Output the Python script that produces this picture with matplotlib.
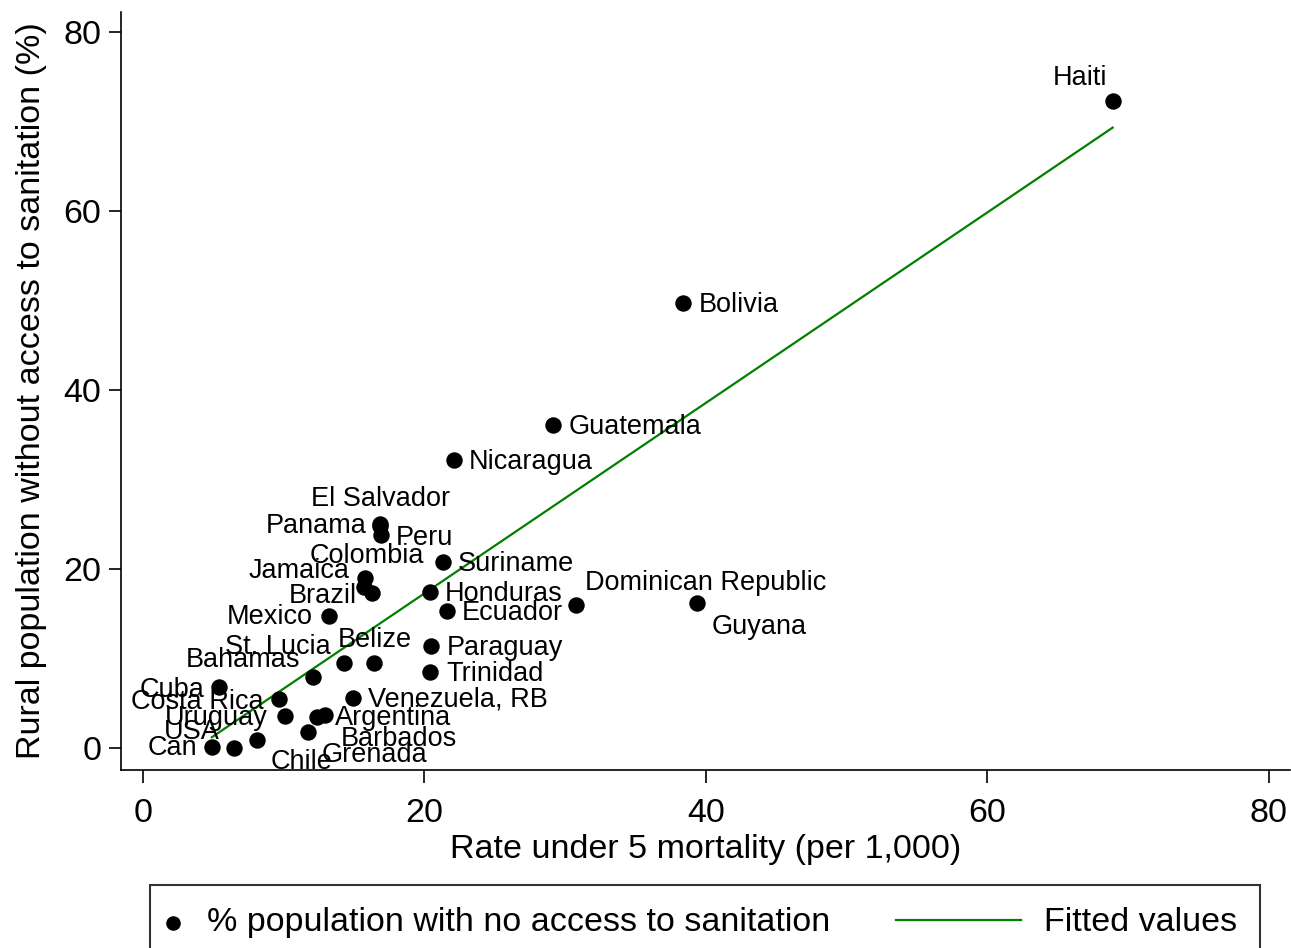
import matplotlib
matplotlib.use("Agg")
import matplotlib.pyplot as plt
from matplotlib.legend_handler import HandlerLine2D, HandlerPathCollection
import numpy as np

plt.rcParams['font.family'] = ['Liberation Sans', 'DejaVu Sans']

# Dados (taxa de mortalidade < 5 anos vs % rural sem saneamento)
PAISES = ["Haiti", "Bolivia", "Guatemala", "Nicaragua", "El Salvador", "Panama",
          "Peru", "Colombia", "Jamaica", "Brazil", "Suriname", "Honduras",
          "Ecuador", "Dominican Republic", "Guyana", "Mexico", "Paraguay",
          "Trinidad", "Belize", "St. Lucia", "Bahamas", "Cuba", "Costa Rica",
          "Venezuela, RB", "Uruguay", "Argentina", "Barbados", "Grenada",
          "Chile", "USA", "Can"]
MORTALIDADE = [68.9, 38.4, 29.1, 22.1, 16.85, 16.85, 16.9, 15.8, 15.7, 16.3,
               21.3, 20.4, 21.6, 30.8, 39.4, 13.2, 20.5, 20.4, 16.4, 14.3,
               12.1, 5.4, 9.7, 14.9, 10.1, 12.9, 12.4, 11.7, 6.5, 8.1, 4.9]
SEM_SANEAMENTO = [72.3, 49.7, 36.1, 32.2, 25.0, 24.8, 23.8, 19.0, 18.0, 17.3,
                  20.8, 17.4, 15.3, 16.0, 16.2, 14.7, 11.4, 8.5, 9.5, 9.5,
                  7.9, 6.8, 5.5, 5.6, 3.6, 3.7, 3.5, 1.8, 0.0, 0.9, 0.1]

# posição dos rótulos (dx, dy em pixels, alinhamento)
ROTULOS = {
    "Haiti": (-33, 23, "center"), "Bolivia": (15, -2, "left"),
    "Guatemala": (16, -2, "left"), "Nicaragua": (15, -2, "left"),
    "El Salvador": (0, 25, "center"), "Panama": (-13, 0, "right"),
    "Peru": (15, -3, "left"), "Colombia": (2, 22, "center"),
    "Jamaica": (-14, 16, "right"), "Brazil": (-15, -3, "right"),
    "Suriname": (15, -2, "left"), "Honduras": (15, -2, "left"),
    "Ecuador": (15, -2, "left"), "Dominican Republic": (9, 22, "left"),
    "Guyana": (14, -24, "left"), "Mexico": (-16, -1, "right"),
    "Paraguay": (15, -2, "left"), "Trinidad": (16, -2, "left"),
    "Belize": (1, 23, "center"), "St. Lucia": (-13, 16, "right"),
    "Bahamas": (-13, 17, "right"), "Cuba": (-14, -3, "right"),
    "Costa Rica": (-16, -3, "right"), "Venezuela, RB": (15, -2, "left"),
    "Uruguay": (-17, -2, "right"), "Argentina": (10, -3, "left"),
    "Barbados": (23, -22, "left"), "Grenada": (14, -23, "left"),
    "Chile": (36, -14, "left"), "USA": (-37, 8, "right"),
    "Can": (-15, -1, "right"),
}

DPI = 100
W, H = 1291, 948
PX = 72 / DPI


# chaves da legenda no estilo do Stata
class MarcadorLegenda(HandlerPathCollection):
    def get_xdata(self, legend, xdescent, ydescent, width, height, fontsize):
        xm = -xdescent + 0.5 * width - 17 * PX
        return [xm, xm], [xm]


class LinhaLegenda(HandlerLine2D):
    def get_xdata(self, legend, xdescent, ydescent, width, height, fontsize):
        fim = -xdescent + width - 23 * PX
        return [fim - 125 * PX, fim], [fim]


x = np.array(MORTALIDADE)
y = np.array(SEM_SANEAMENTO)

fig = plt.figure(figsize=(W / DPI, H / DPI), dpi=DPI)
ax = fig.add_axes([121 / W, 1 - 770 / H, (1290 - 121) / W, (770 - 12) / H])

pontos = ax.scatter(x, y, s=140, color="black", zorder=3, linewidths=0,
                    label="% population with no access to sanitation")

# Reta ajustada (valores ajustados)
a, b = np.polyfit(x, y, 1)
xs = np.array([x.min(), x.max()])
linha, = ax.plot(xs, a * xs + b, color="#008000", linewidth=1.6,
                 label="Fitted values", zorder=2)

for nome, xi, yi in zip(PAISES, x, y):
    dx, dy, ha = ROTULOS[nome]
    ax.annotate(nome, (xi, yi), xytext=(dx * PX, dy * PX),
                textcoords="offset points", ha=ha, va="center",
                fontsize=19.5, zorder=4)

ax.set_xlim(-1.56, 81.5)
ax.set_ylim(-2.46, 82.2)
ax.set_xticks([0, 20, 40, 60, 80])
ax.set_yticks([0, 20, 40, 60, 80])
ax.tick_params(direction="out", length=9, width=1.2, labelsize=24.5)
ax.tick_params(axis="x", pad=11)
ax.tick_params(axis="y", pad=5)
for lado in ["top", "right"]:
    ax.spines[lado].set_visible(False)
for lado in ["left", "bottom"]:
    ax.spines[lado].set_linewidth(1.2)

ax.set_xlabel("Rate under 5 mortality (per 1,000)", fontsize=24.5, labelpad=4)
ax.set_ylabel("Rural population without access to sanitation (%)",
              fontsize=24.5, labelpad=12)

leg = fig.legend(handles=[pontos, linha], loc="upper center",
                 bbox_to_anchor=(705 / W, 1 - 885 / H), ncol=2,
                 fontsize=24.5, frameon=True, fancybox=False,
                 edgecolor="black", handlelength=1.0, handletextpad=0.0,
                 columnspacing=5.3, borderpad=0.66, borderaxespad=0,
                 scatterpoints=1,
                 handler_map={pontos: MarcadorLegenda(),
                              linha: LinhaLegenda()})
leg.get_frame().set_linewidth(1.5)
leg.legend_handles[0].set_sizes([110])

plt.savefig("out.png", dpi=DPI)
